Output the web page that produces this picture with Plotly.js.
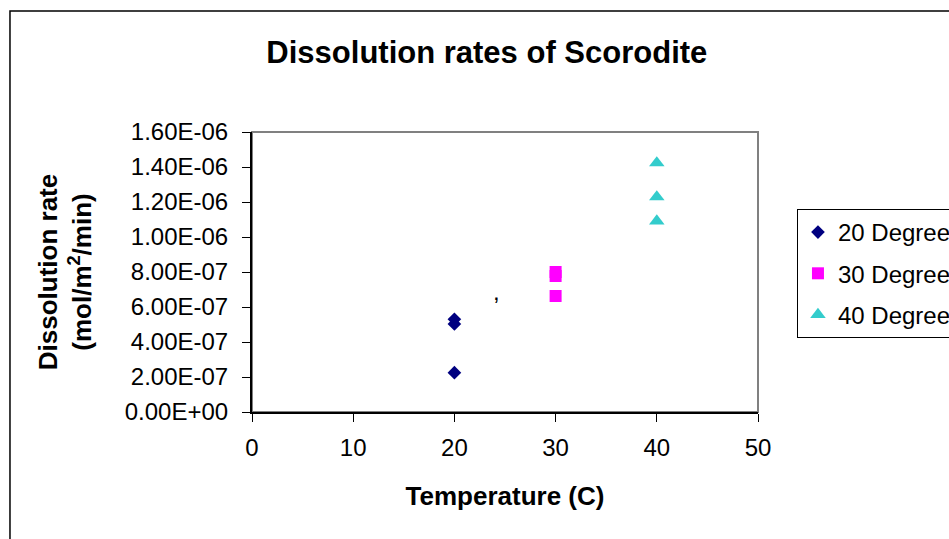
<!DOCTYPE html>
<html>
<head>
<meta charset="utf-8">
<script src="https://cdn.plot.ly/plotly-3.0.1.min.js"></script>
<style>
html,body{margin:0;padding:0;background:#fff;overflow:hidden;}
#chart{width:949px;height:539px;}
</style>
</head>
<body>
<div id="chart"></div>
<script>
// Data
const seriesNames = ["20 Degree", "30 Degree", "40 Degree"];
const temp20 = [20, 20, 20];
const rate20 = [5.30e-7, 5.03e-7, 2.25e-7];
const temp30 = [30, 30, 30];
const rate30 = [8.00e-7, 7.77e-7, 6.63e-7];
const temp40 = [40, 40, 40];
const rate40 = [1.423e-6, 1.229e-6, 1.091e-6];

const yTickVals = [0, 2e-7, 4e-7, 6e-7, 8e-7, 1.0e-6, 1.2e-6, 1.4e-6, 1.6e-6];
const yTickLabels = ["0.00E+00", "2.00E-07", "4.00E-07", "6.00E-07", "8.00E-07",
                     "1.00E-06", "1.20E-06", "1.40E-06", "1.60E-06"];
const xTickVals = [0, 10, 20, 30, 40, 50];

const FONT = "Arial, 'Liberation Sans', sans-serif";

const traces = [
  {x: temp20, y: rate20, name: seriesNames[0], legendgroup: "a", type: "scatter", mode: "markers",
   marker: {symbol: "diamond", size: 10.5, color: "#000080"}},
  {x: temp30, y: rate30, name: seriesNames[1], legendgroup: "b", type: "scatter", mode: "markers",
   marker: {symbol: "square", size: 12, color: "#FF00FF"}},
  {x: temp40, y: rate40, name: seriesNames[2], legendgroup: "c", type: "scatter", mode: "markers",
   marker: {symbol: "triangle-up", size: 13.5, color: "#33CCCC"}}
];

const layout = {
  width: 949, height: 539,
  margin: {l: 252, r: 191, t: 132, b: 127, autoexpand: false},
  paper_bgcolor: "#fff", plot_bgcolor: "#fff",
  font: {family: FONT, color: "#000", size: 24},
  showlegend: true,
  title: {text: "<b>Dissolution rates of Scorodite</b>", font: {family: FONT, size: 31, color: "#000"},
          x: 0.513, xref: "container", y: 0.903, yref: "container", xanchor: "center", yanchor: "middle"},
  xaxis: {
    range: [0, 50], tickvals: xTickVals, ticks: "outside", ticklen: 8, tickwidth: 1, tickcolor: "#000",
    showline: true, linecolor: "#000", linewidth: 2, showgrid: false, zeroline: false,
    ticklabelstandoff: 5, tickfont: {family: FONT, size: 24, color: "#000"},
    title: {text: "<b>Temperature (C)</b>", font: {family: FONT, size: 26, color: "#000"}, standoff: 27}
  },
  yaxis: {
    range: [0, 1.6e-6], tickvals: yTickVals, ticktext: yTickLabels, ticks: "outside", ticklen: 8, tickwidth: 1,
    tickcolor: "#000", showline: true, linecolor: "#000", linewidth: 2, showgrid: false, zeroline: false,
    ticklabelstandoff: 9, tickfont: {family: FONT, size: 24, color: "#000"},
    title: {text: "<b>Dissolution rate<br>(mol/m<sup>2</sup>/min)</b>", font: {family: FONT, size: 26, color: "#000"}, standoff: 26}
  },
  legend: {
    x: 1.077, xanchor: "left", y: 0.725, yanchor: "top",
    bgcolor: "#fff", bordercolor: "#000", borderwidth: 1,
    font: {family: FONT, size: 24, color: "#000"},
    traceorder: "grouped", tracegroupgap: 7
  },
  annotations: [
    {x: 24.2, y: 6.86e-7, xref: "x", yref: "y", text: ",", showarrow: false, font: {family: FONT, size: 24, color: "#000"}}
  ],
  shapes: [
    {type: "rect", xref: "paper", yref: "paper", x0: 0, x1: 1, y0: 0, y1: 1,
     line: {color: "#808080", width: 2}, layer: "below"},
    {type: "rect", xref: "paper", yref: "paper", x0: -0.4783, x1: 3, y0: -2, y1: 1.432,
     line: {color: "#000", width: 1.5}, fillcolor: "rgba(0,0,0,0)", layer: "below"}
  ]
};

Plotly.newPlot("chart", traces, layout, {displayModeBar: false, staticPlot: true});
</script>
</body>
</html>
